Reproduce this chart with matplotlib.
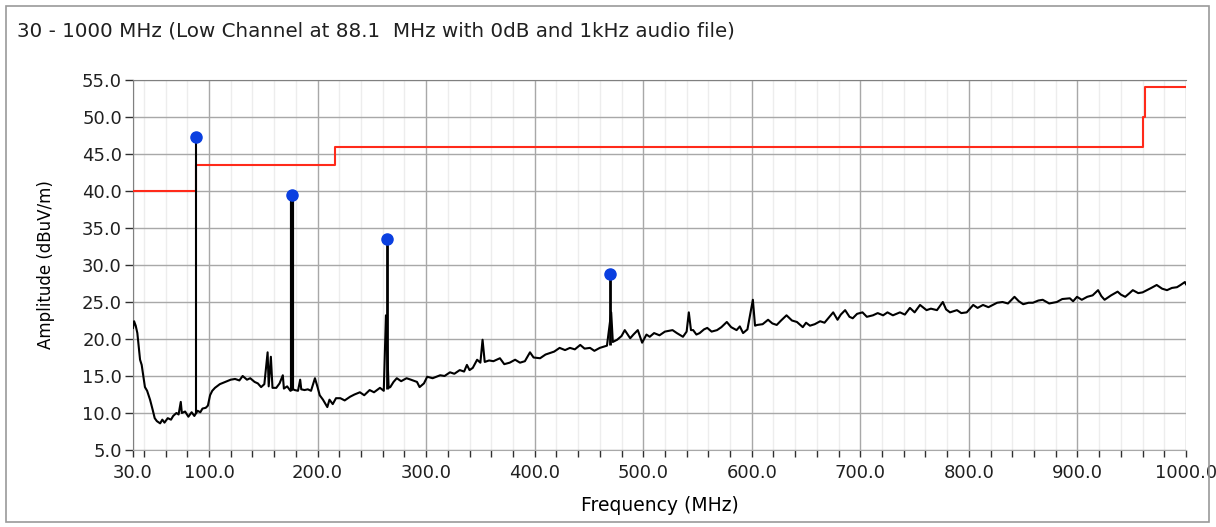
import numpy as np
import matplotlib
matplotlib.use("Agg")
import matplotlib.pyplot as plt
from matplotlib.patches import Rectangle
from matplotlib.ticker import FixedLocator

# measured noise floor (MHz, dBuV/m)
trace_freq = [30, 31, 32.5, 34, 36.5, 38, 41, 43, 45.7, 48, 50, 52, 55, 57, 59, 62, 65, 67, 70, 72,
              74, 75, 78, 81, 84, 86.5, 89.5, 92, 94, 97, 99, 101, 103, 105.5, 110, 115, 120, 124,
              128, 131, 135, 138, 142, 145, 148, 151, 154, 155, 157, 158.5, 162, 165, 168, 169, 172,
              175, 177.5, 179, 182, 184, 185, 188, 191, 194, 197.6, 200, 202, 205, 207, 209, 211, 214,
              217, 221, 225, 230, 234, 239, 243, 248, 252, 257.5, 261, 263, 265.5, 267, 270, 273, 277,
              282, 286, 291.6, 294, 298, 301, 306, 313, 317, 322, 326, 331, 335, 337.6, 340, 343, 347,
              350, 352, 354, 358, 362, 368, 372, 377, 382, 386.5, 391, 395.7, 399, 405, 410, 414, 418,
              423, 428, 432.5, 437, 442, 446, 451, 455, 460, 466.6, 470.5, 472, 476, 480, 483, 488,
              491, 495, 499, 503, 506, 510, 515, 520, 527, 531, 536.6, 540, 542, 544, 546, 549, 552,
              556, 559, 563, 568, 572, 577, 581, 586, 589, 592, 596, 601, 603, 605, 610, 615, 619, 623,
              627, 632, 637, 641.6, 647, 650, 653.6, 658, 663, 667, 671, 675, 679, 682, 686, 690, 693,
              697, 702, 706, 711.6, 716, 721, 725, 730, 736.5, 741, 745.7, 750, 755, 761, 765, 770.6,
              776, 779, 782.6, 789, 793, 798, 804, 808, 813, 818, 822, 826, 831, 836, 842, 846, 850,
              855, 859, 864, 868, 874, 881, 886, 893, 896, 899.6, 904, 909, 914, 919, 922, 925, 931,
              937, 940, 944, 948, 951, 956, 960, 964, 968, 973, 978, 982.5, 987, 991.7, 995, 999, 1000]
trace_level = [21.5, 22.4, 21.8, 20.8, 17.2, 16.5, 13.5, 13.0, 11.8, 10.5, 9.3, 8.9, 8.6, 9.1, 8.7, 9.3,
               9.1, 9.6, 10.0, 9.8, 11.5, 10.0, 10.2, 9.5, 10.1, 9.6, 10.3, 10.1, 10.6, 10.7, 11.0,
               12.4, 13.0, 13.4, 13.9, 14.2, 14.5, 14.6, 14.4, 15.0, 14.5, 14.7, 14.2, 14.0, 13.5,
               13.9, 18.2, 13.6, 17.6, 13.4, 13.4, 14.0, 15.1, 13.3, 13.6, 13.0, 13.2, 13.1, 13.0,
               14.5, 13.2, 13.1, 13.2, 13.0, 14.7, 13.5, 12.4, 11.8, 11.3, 10.8, 11.8, 11.2, 12.0,
               12.0, 11.7, 12.2, 12.5, 12.8, 12.4, 13.1, 12.8, 13.4, 13.0, 23.2, 13.4, 13.5, 14.2,
               14.7, 14.3, 14.7, 14.5, 14.2, 13.5, 14.0, 14.9, 14.7, 15.1, 15.0, 15.5, 15.3, 15.8,
               15.6, 16.5, 15.8, 16.1, 17.2, 16.8, 19.9, 16.9, 17.1, 17.0, 17.4, 16.6, 16.8, 17.2,
               16.8, 17.0, 18.2, 17.5, 17.4, 17.9, 18.1, 18.3, 18.8, 18.5, 18.8, 18.6, 19.2, 18.7,
               18.8, 18.4, 18.8, 19.1, 23.6, 19.6, 19.9, 20.4, 21.2, 20.1, 20.6, 21.2, 19.5, 20.6,
               20.3, 20.8, 20.5, 21.0, 21.2, 20.8, 20.3, 21.0, 23.6, 21.2, 21.2, 20.6, 20.8, 21.3,
               21.5, 21.0, 21.2, 21.6, 22.3, 21.6, 21.2, 21.7, 20.8, 21.3, 25.3, 21.8, 21.9, 22.0,
               22.6, 22.1, 21.9, 22.5, 23.2, 22.5, 22.3, 21.6, 22.2, 21.8, 22.0, 22.4, 22.2, 22.9,
               23.6, 22.6, 23.3, 23.9, 23.0, 22.8, 23.4, 23.6, 23.0, 23.2, 23.5, 23.2, 23.6, 23.2,
               23.6, 23.3, 24.2, 23.6, 24.6, 23.9, 24.1, 23.9, 25.0, 24.0, 23.6, 23.9, 23.5, 23.6,
               24.6, 24.2, 24.6, 24.3, 24.6, 24.9, 25.0, 24.8, 25.7, 25.1, 24.7, 24.9, 24.9, 25.2,
               25.3, 24.8, 25.0, 25.4, 25.5, 25.1, 25.7, 25.3, 25.7, 25.9, 26.6, 25.8, 25.3, 25.9,
               26.4, 26.0, 25.7, 26.2, 26.6, 26.2, 26.3, 26.6, 26.9, 27.3, 26.8, 26.6, 26.9, 27.0,
               27.3, 27.7, 27.4]

# peaks found (blue markers) and the floor at their foot
peak_freq = [88.1, 176.2, 264.3, 469.5]
peak_level = [47.3, 39.5, 33.5, 28.8]
peak_base = [9.8, 13.1, 13.2, 19.2]

# limit line
limit_freq = [30, 88, 216, 960, 962, 1000]
limit_level = [40, 43.5, 46, 50, 54, 54]

major_x = [30, 100, 200, 300, 400, 500, 600, 700, 800, 900, 1000]
minor_x = list(range(40, 1000, 20))
y_ticks = [5, 10, 15, 20, 25, 30, 35, 40, 45, 50, 55]

W, H = 1216, 527
fig = plt.figure(figsize=(W / 100, H / 100), dpi=100)
ax = fig.add_axes([133 / W, 1 - 450 / H, (1186 - 133) / W, (450 - 80) / H])

ax.set_xlim(30, 1000)
ax.set_ylim(5, 55)

ax.xaxis.set_major_locator(FixedLocator(major_x))
ax.xaxis.set_minor_locator(FixedLocator(minor_x))
ax.set_xticklabels([f"{v:.1f}" for v in major_x])
ax.set_yticks(y_ticks)
ax.set_yticklabels([f"{v:.1f}" for v in y_ticks])

ax.grid(True, which="major", color="#a8a8a8", lw=1.0)
ax.grid(True, which="minor", axis="x", color="#ededed", lw=1.0)
ax.set_axisbelow(True)

ax.tick_params(axis="x", which="both", direction="out", length=5, width=1, color="#303030",
               labelsize=13, labelcolor="#202020", pad=5)
ax.tick_params(axis="y", direction="out", length=6, width=1, color="#303030",
               labelsize=13, labelcolor="#202020", pad=2)

ax.spines["right"].set_visible(False)
ax.spines["bottom"].set_color("#a8a8a8")
ax.spines["left"].set_color("#808080")
ax.spines["top"].set_color("#808080")

ax.plot(limit_freq, limit_level, color="#ff2a1a", lw=1.5, drawstyle="steps-post", zorder=3)
ax.plot(trace_freq, trace_level, color="black", lw=1.5, zorder=4)
ax.vlines(peak_freq, peak_base, peak_level, colors="black", lw=[1.5, 3.0, 2.0, 2.0], zorder=4)
ax.plot(peak_freq, peak_level, "o", color="#0a3fe0", markersize=8, zorder=5)

ax.set_xlabel("Frequency (MHz)", fontsize=13.5)
ax.xaxis.set_label_coords(0.5, (450 - 496) / 370)
ax.set_ylabel("Amplitude (dBuV/m)", fontsize=12)
ax.yaxis.set_label_coords((55 - 133) / 1053, 0.5)

fig.text(17 / W, 1 - 31 / H, "30 - 1000 MHz (Low Channel at 88.1  MHz with 0dB and 1kHz audio file)",
         fontsize=14.3, va="center", ha="left", color="#202020")

fig.patches.append(Rectangle((6 / W, 5 / H), (1209 - 6) / W, (521 - 5) / H, transform=fig.transFigure,
                             fill=False, edgecolor="#9a9a9a", lw=1.2))

fig.savefig("out.png", dpi=100)
